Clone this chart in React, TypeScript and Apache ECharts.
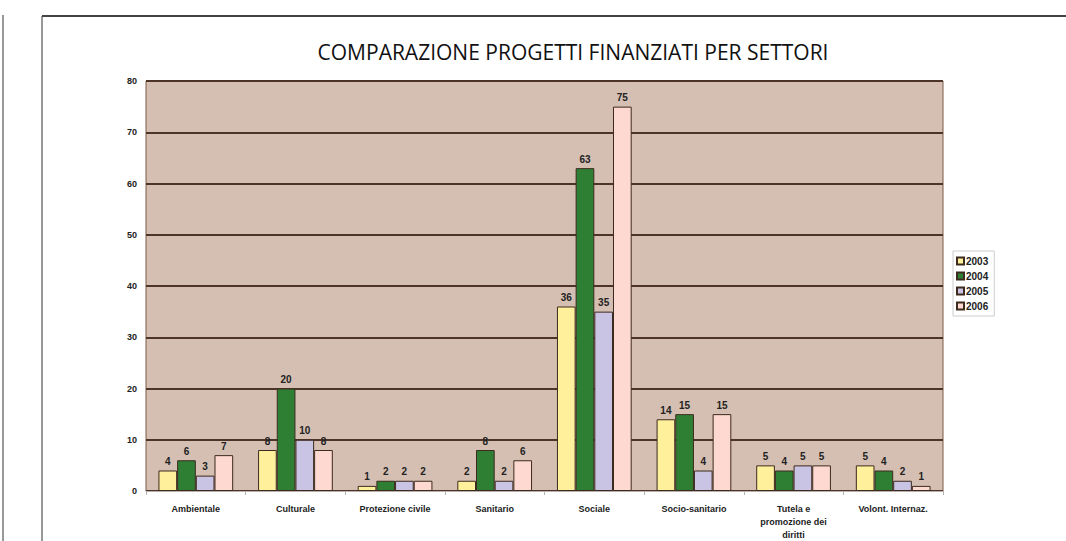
import React, { useEffect, useRef } from "react";
import * as echarts from "echarts";

const categories = [
  "Ambientale",
  "Culturale",
  "Protezione civile",
  "Sanitario",
  "Sociale",
  "Socio-sanitario",
  "Tutela e\npromozione dei\ndiritti",
  "Volont. Internaz.",
];
const years = ["2003", "2004", "2005", "2006"];
const s2003 = [4, 8, 1, 2, 36, 14, 5, 5];
const s2004 = [6, 20, 2, 8, 63, 15, 4, 4];
const s2005 = [3, 10, 2, 2, 35, 4, 5, 2];
const s2006 = [7, 8, 2, 6, 75, 15, 5, 1];
const seriesData = [s2003, s2004, s2005, s2006];
const colors = ["#fff09c", "#2e7f34", "#c9c3e4", "#fdd9d1"];

export default function App() {
  const ref = useRef<HTMLDivElement>(null);
  useEffect(() => {
    const chart = echarts.init(ref.current!, null, { renderer: "svg" });
    chart.setOption({
      animation: false,
      backgroundColor: "#ffffff",
      title: {
        text: "COMPARAZIONE PROGETTI FINANZIATI PER SETTORI",
        left: 568,
        textAlign: "center",
        top: 36,
        textStyle: {
          fontFamily: "Open Sans",
          fontWeight: "normal",
          fontSize: 21,
          color: "#111",
        },
      },
      legend: {
        orient: "vertical",
        left: 953,
        top: 251,
        itemWidth: 7,
        itemHeight: 7,
        itemGap: 5,
        icon: "rect",
        padding: [5, 6, 5, 3],
        borderColor: "#cccccc",
        borderWidth: 1,
        textStyle: {
          fontFamily: "Arial",
          fontWeight: "bold",
          fontSize: 10,
          color: "#222",
          padding: [0, 0, 0, -3],
        },
        data: years,
      },
      grid: {
        left: 146,
        right: 123,
        top: 81,
        bottom: 49,
        show: true,
        backgroundColor: "#d4bfb2",
        borderColor: "#7a5a4a",
        borderWidth: 1,
      },
      xAxis: {
        type: "category",
        data: categories,
        axisLine: { show: true, lineStyle: { color: "#b8b0ac", width: 1 } },
        axisTick: { show: true, length: 4, lineStyle: { color: "#b8b0ac" } },
        axisLabel: {
          fontFamily: "Arial",
          fontWeight: "bold",
          fontSize: 9,
          color: "#222",
          margin: 11,
          lineHeight: 13,
          interval: 0,
        },
      },
      yAxis: {
        type: "value",
        min: 0,
        max: 80,
        interval: 10,
        axisLine: { show: false },
        axisTick: { show: false },
        splitLine: { lineStyle: { color: "#4e3428", width: 2 } },
        axisLabel: {
          fontFamily: "Arial",
          fontWeight: "bold",
          fontSize: 9,
          color: "#222",
          margin: 9,
        },
      },
      series: years.map((y, i) => ({
        name: y,
        type: "bar",
        data: seriesData[i],
        barGap: "0%",
        barCategoryGap: "25%",
        itemStyle: {
          color: colors[i],
          borderColor: "#3d2a1e",
          borderWidth: 1,
        },
        label: {
          show: true,
          position: "top",
          distance: 4,
          fontFamily: "Arial",
          fontWeight: "bold",
          fontSize: 10,
          color: "#222",
        },
        z: 3,
      })),
      graphic: [
        { type: "line", shape: { x1: 3, y1: 15, x2: 3, y2: 541 }, style: { stroke: "#333", lineWidth: 1 } },
        { type: "line", shape: { x1: 42, y1: 16, x2: 42, y2: 541 }, style: { stroke: "#333", lineWidth: 1 } },
        { type: "line", shape: { x1: 42, y1: 16, x2: 1066, y2: 16 }, style: { stroke: "#444", lineWidth: 2 } },
      ],
    });
    return () => chart.dispose();
  }, []);
  return (
    <div
      ref={ref}
      style={{ position: "fixed", left: 0, top: 0, width: 1066, height: 541 }}
    />
  );
}
